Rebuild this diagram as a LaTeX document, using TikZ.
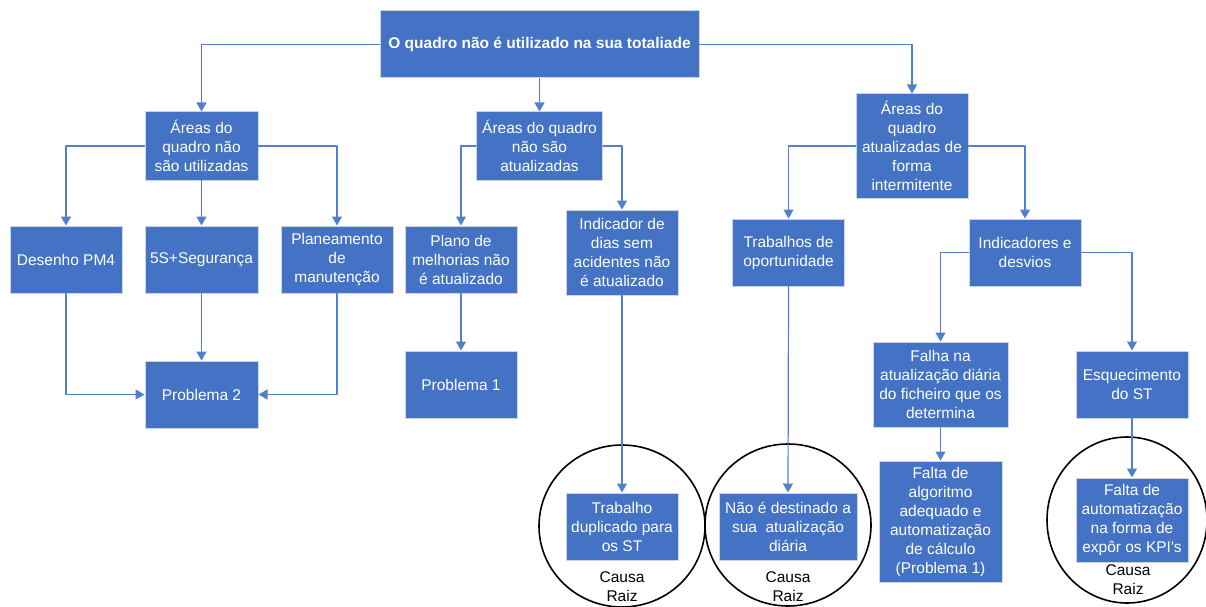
\documentclass[tikz,border=0pt]{standalone}
\usepackage{fontspec}
\newfontfamily\arialfont{Liberation Sans}
\usetikzlibrary{arrows.meta}

\definecolor{boxblue}{RGB}{68,114,196}
\definecolor{boxedge}{RGB}{205,212,226}
\definecolor{linkblue}{RGB}{82,128,206}

\begin{document}
\begin{tikzpicture}[x=1pt,y=-1pt,line cap=round,line join=round,
    box/.style={draw=boxedge, line width=1pt, fill=boxblue, text=white,
      align=center, inner sep=0pt, minimum width=112pt, minimum height=67pt,
      font=\arialfont\fontsize{15.5}{19}\selectfont},
    link/.style={draw=linkblue, line width=1.2pt,
      -{Triangle[length=9pt,width=10pt]}},
    rootring/.style={draw=black, line width=1.6pt},
    rootlabel/.style={align=center, inner sep=0pt,
      font=\arialfont\fontsize{15.5}{19}\selectfont}]
  \useasboundingbox (0,0) rectangle (1206,607);

  % Problem at the top
  \node[box, minimum width=319pt, font=\arialfont\bfseries\fontsize{15.5}{19}\selectfont] (root) at (539.5,44.5)
    {O quadro não é utilizado na sua totaliade};

  % First level
  \node[box, minimum width=113pt, minimum height=68pt] (unused) at (201.5,146) {Áreas do\\quadro não\\são utilizadas};
  \node[box, minimum width=126pt, minimum height=68pt] (stale) at (539.5,146) {Áreas do quadro\\não são\\atualizadas};
  \node[box, minimum height=104pt] (intermit) at (912,146) {Áreas do\\quadro\\atualizadas de\\forma\\intermitente};

  % Second level
  \node[box] (pm4) at (66,259.5) {Desenho PM4};
  \node[box, minimum width=113pt] (safety) at (201.5,259.5) {5S+Segurança};
  \node[box] (maint) at (337,259.5) {Planeamento\\de\\manutenção};
  \node[box] (plan) at (461,259.5) {Plano de\\melhorias não\\é atualizado};
  \node[box, minimum height=85pt] (days) at (622,252.5) {Indicador de\\dias sem\\acidentes não\\é atualizado};
  \node[box] (chance) at (788.5,252.5) {Trabalhos de\\oportunidade};
  \node[box] (kpi) at (1025,252.5) {Indicadores e\\desvios};

  % Third level
  \node[box, minimum width=113pt] (prob2) at (201.5,394.5) {Problema 2};
  \node[box] (prob1) at (461,384.5) {Problema 1};
  \node[box, minimum width=135pt, minimum height=85pt] (fail) at (940.5,384.5) {Falha na\\atualização diária\\do ficheiro que os\\determina};
  \node[box] (forget) at (1132,384.5) {Esquecimento\\do ST};

  % Fourth level
  \node[box] (dup) at (622,526.5) {Trabalho\\duplicado para\\os ST};
  \node[box, minimum width=138pt] (nodaily) at (788,526.5) {Não é destinado a\\sua~~atualização\\diária};
  \node[box, minimum width=123pt, minimum height=121pt] (algo) at (940.5,521.5) {Falta de\\algoritmo\\adequado e\\automatização\\de cálculo\\(Problema 1)};
  \node[box, minimum height=84pt] (auto) at (1132,520) {Falta de\\automatização\\na forma de\\expôr os KPI's};

  % Root causes
  \draw[rootring] (622,526) ellipse (83 and 81);
  \draw[rootring] (788,525) ellipse (83 and 81);
  \draw[rootring] (1127,520) ellipse (80 and 83);
  \node[rootlabel] (cause1) at (622,586.5) {Causa\\Raiz};
  \node[rootlabel] (cause2) at (788,586.5) {Causa\\Raiz};
  \node[rootlabel] (cause3) at (1128,579.5) {Causa\\Raiz};

  % Connectors
  \draw[link] (root.west) -| (unused.north);
  \draw[link] (root.south) -- (stale.north);
  \draw[link] (root.east) -| (intermit.north);
  \draw[link] (unused.west) -| (pm4.north);
  \draw[link] (unused.south) -- (safety.north);
  \draw[link] (unused.east) -| (maint.north);
  \draw[link] (stale.west) -| (plan.north);
  \draw[link] (stale.east) -| (days.north);
  \draw[link] (intermit.west) -| (chance.north);
  \draw[link] (intermit.east) -| (kpi.north);
  \draw[link] (kpi.west) -| (fail.north);
  \draw[link] (kpi.east) -| (forget.north);
  \draw[link] (pm4.south) |- (prob2.west);
  \draw[link] (safety.south) -- (prob2.north);
  \draw[link] (maint.south) |- (prob2.east);
  \draw[link] (plan.south) -- (prob1.north);
  \draw[link] (days.south) -- (dup.north);
  \draw[link] (chance.south) -- (nodaily.north);
  \draw[link] (fail.south) -- (algo.north);
  \draw[link] (forget.south) -- (auto.north);
\end{tikzpicture}
\end{document}
